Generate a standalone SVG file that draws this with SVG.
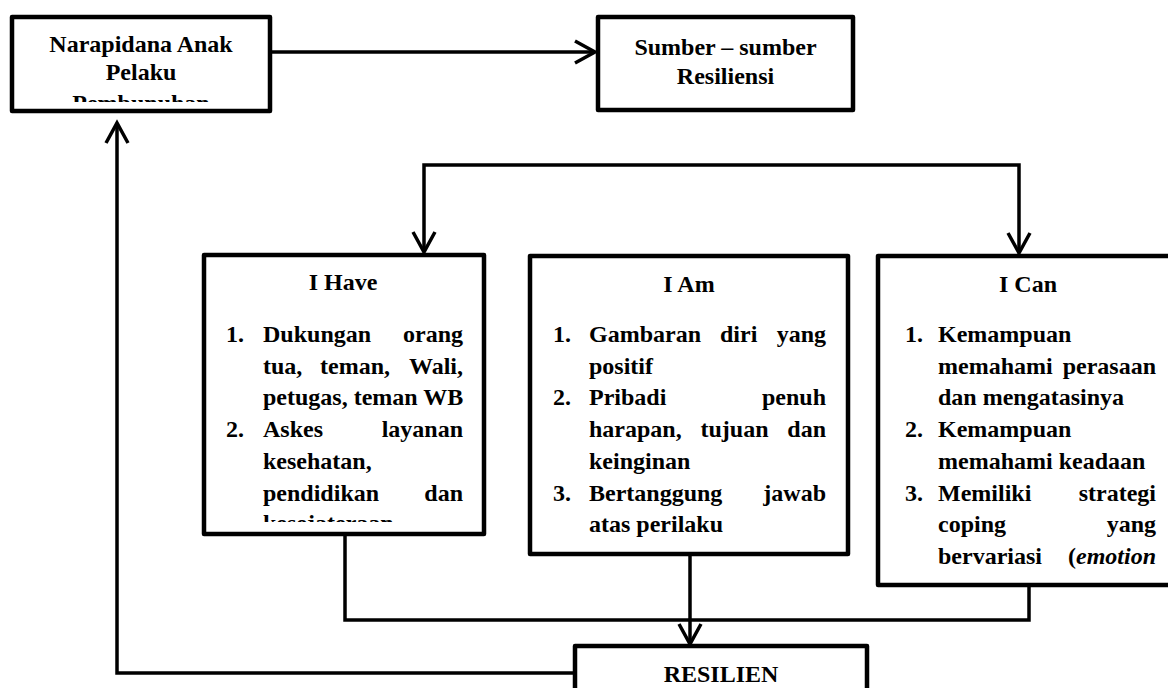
<svg xmlns="http://www.w3.org/2000/svg" width="1168" height="688" viewBox="0 0 1168 688">
<style>
.box{fill:#fff;stroke:#000;stroke-width:4.5;stroke-linejoin:round}
.t{font-family:"Liberation Serif","Times New Roman",serif;font-weight:bold;font-size:24px;fill:#000}
.c{text-anchor:middle}
.e{text-anchor:end}
.ln{fill:none;stroke:#000;stroke-width:3.5;stroke-linejoin:miter}
</style>
<defs>
<marker id="ah" markerUnits="userSpaceOnUse" viewBox="-24 -14 28 28" refX="0" refY="0" markerWidth="28" markerHeight="28" orient="auto-start-reverse">
<path d="M-20,-11 L0,0 L-20,11" fill="none" stroke="#000" stroke-width="3.5"/>
</marker>
<clipPath id="clipA"><rect x="12" y="17" width="258" height="85"/></clipPath>
<clipPath id="clipH"><rect x="204" y="255" width="280" height="267"/></clipPath>
</defs>
<g id="connectors">
<path class="ln" d="M272,52 H595" marker-end="url(#ah)"/>
<path class="ln" d="M424,252 V165 H1019 V253" marker-start="url(#ah)" marker-end="url(#ah)"/>
<path class="ln" d="M345,536 V620 H1029 V587"/>
<path class="ln" d="M690,556 V644" marker-end="url(#ah)"/>
<path class="ln" d="M575,673 H117 V123" marker-end="url(#ah)"/>
</g>
<g id="node-narapidana">
<rect class="box" x="12" y="17" width="258" height="94"/>
<g clip-path="url(#clipA)">
<text class="t c" x="141" y="52">Narapidana Anak</text>
<text class="t c" x="141" y="80">Pelaku</text>
<text class="t c" x="141" y="111">Pembunuhan</text>
</g>
</g>
<g id="node-sumber">
<rect class="box" x="598" y="17" width="255" height="93"/>
<text class="t c" x="725.5" y="55">Sumber – sumber</text>
<text class="t c" x="725.5" y="84">Resiliensi</text>
</g>
<g id="node-ihave">
<rect class="box" x="204" y="255" width="280" height="279"/>
<text class="t c" x="343" y="290">I Have</text>
<g clip-path="url(#clipH)">
<text class="t" x="226" y="342">1.</text>
<text class="t" x="263" y="342">Dukungan</text>
<text class="t e" x="463" y="342">orang</text>
<text class="t" x="263" y="373.7">tua,</text>
<text class="t" x="320" y="373.7">teman,</text>
<text class="t e" x="463" y="373.7">Wali,</text>
<text class="t" x="263" y="405.4">petugas, teman WB</text>
<text class="t" x="226" y="437">2.</text>
<text class="t" x="263" y="437">Askes</text>
<text class="t e" x="463" y="437">layanan</text>
<text class="t" x="263" y="468.8">kesehatan,</text>
<text class="t" x="263" y="500.5">pendidikan</text>
<text class="t e" x="463" y="500.5">dan</text>
<text class="t" x="263" y="531">kesejateraan</text>
</g>
</g>
<g id="node-iam">
<rect class="box" x="530" y="256" width="318" height="298"/>
<text class="t c" x="689" y="292">I Am</text>
<text class="t" x="553" y="342">1.</text>
<text class="t" x="589" y="342">Gambaran</text>
<text class="t" x="720" y="342">diri</text>
<text class="t e" x="826" y="342">yang</text>
<text class="t" x="589" y="373.7">positif</text>
<text class="t" x="553" y="405.4">2.</text>
<text class="t" x="589" y="405.4">Pribadi</text>
<text class="t e" x="826" y="405.4">penuh</text>
<text class="t" x="589" y="437">harapan,</text>
<text class="t" x="700.5" y="437">tujuan</text>
<text class="t e" x="826" y="437">dan</text>
<text class="t" x="589" y="468.8">keinginan</text>
<text class="t" x="553" y="500.5">3.</text>
<text class="t" x="589" y="500.5">Bertanggung</text>
<text class="t e" x="826" y="500.5">jawab</text>
<text class="t" x="589" y="532.2">atas perilaku</text>
</g>
<g id="node-ican">
<rect class="box" x="878" y="256" width="302" height="329"/>
<text class="t c" x="1028" y="292">I Can</text>
<text class="t" x="905" y="342">1.</text>
<text class="t" x="938" y="342">Kemampuan</text>
<text class="t" x="938" y="373.7">memahami</text>
<text class="t e" x="1156" y="373.7">perasaan</text>
<text class="t" x="938" y="405.4">dan mengatasinya</text>
<text class="t" x="905" y="437">2.</text>
<text class="t" x="938" y="437">Kemampuan</text>
<text class="t" x="938" y="468.8">memahami keadaan</text>
<text class="t" x="905" y="500.5">3.</text>
<text class="t" x="938" y="500.5">Memiliki</text>
<text class="t e" x="1156" y="500.5">strategi</text>
<text class="t" x="938" y="532.2">coping</text>
<text class="t e" x="1156" y="532.2">yang</text>
<text class="t" x="938" y="564">bervariasi</text>
<text class="t e" x="1156" y="564">(<tspan font-style="italic">emotion</tspan></text>
</g>
<g id="node-resilien">
<rect class="box" x="575" y="646" width="292" height="60"/>
<text class="t c" x="721" y="682">RESILIEN</text>
</g>
</svg>
